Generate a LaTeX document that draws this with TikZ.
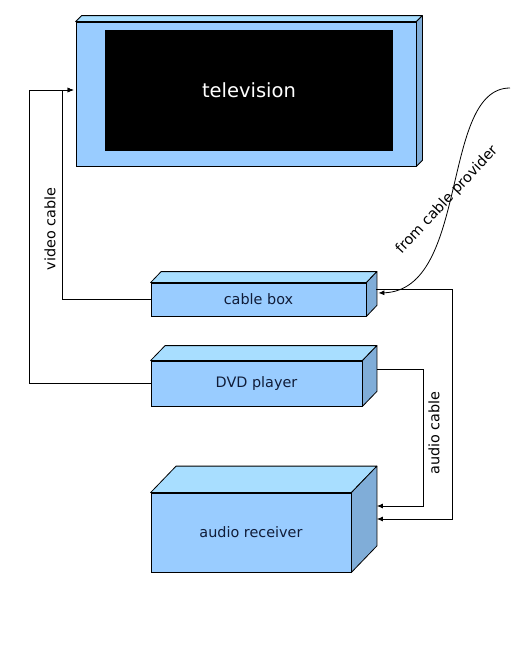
\documentclass[tikz,border=0pt]{standalone}
\usepackage{fontspec}
\setmainfont{DejaVu Sans}
\usetikzlibrary{arrows.meta}
\definecolor{frontc}{RGB}{153,204,255}
\definecolor{topc}{RGB}{168,222,255}
\definecolor{sidec}{RGB}{128,173,216}
\definecolor{txtc}{RGB}{16,28,56}
\newcommand{\cubefaces}[3]{%
  \filldraw[face,fill=topc] (#1.north west) -- ++(#2,-#3) -- ([shift={(#2,-#3)}]#1.north east) -- (#1.north east) -- cycle;
  \filldraw[face,fill=sidec] (#1.north east) -- ++(#2,-#3) -- ([shift={(#2,-#3)}]#1.south east) -- (#1.south east) -- cycle;
}
\begin{document}
\begin{tikzpicture}[x=1pt,y=-1pt,
  frontbox/.style={draw=black, fill=frontc, line width=0.8pt, inner sep=0pt, text=txtc, font=\fontsize{14.4}{17}\selectfont},
  face/.style={draw=black, line width=0.8pt, line join=round},
  wire/.style={draw=black, line width=0.8pt},
  arr/.style={wire, -{Latex[length=6pt,width=5pt]}},
  lbl/.style={font=\fontsize{14.4}{17}\selectfont, text=black, inner sep=0pt}]
\useasboundingbox (0,0) rectangle (512,662);
\fill[white] (0,0) rectangle (512,662);
% television
\node[frontbox, minimum width=340pt, minimum height=144pt] (tv) at (246,94) {};
\cubefaces{tv}{6}{6}
\node[fill=black, minimum width=288pt, minimum height=121pt, inner sep=0pt, text=white, font=\fontsize{19.5}{23}\selectfont] (screen) at (249,90.5) {television};
% cable box
\node[frontbox, minimum width=215pt, minimum height=33pt] (cb) at (258.5,299.5) {cable box};
\cubefaces{cb}{10.5}{11}
% DVD
\node[frontbox, minimum width=211pt, minimum height=45pt] (dvd) at (256.5,383.5) {DVD player};
\cubefaces{dvd}{14.5}{15}
% audio receiver
\node[frontbox, minimum width=200pt, minimum height=79pt] (ar) at (251,532.5) {audio receiver};
\cubefaces{ar}{25.5}{26.5}
% coordinates
\coordinate (tvin) at ([yshift=4pt]tv.west);
\coordinate (cbout) at ([shift={(10,-10)}]cb.east);
\coordinate (dvdout) at ([shift={(14.5,-14.5)}]dvd.east);
\coordinate (arin1) at ([shift={(25.5,-26.5)}]ar.east);
\coordinate (arin2) at ([shift={(25.5,-13.5)}]ar.east);
\coordinate (cp) at (510,88);
\coordinate (cbin) at ([shift={(12,-6.5)}]cb.east);
% wires
\draw[arr, shorten >=2pt] (cb.west) -- ++(-88,0) |- (tvin);
\draw[arr, shorten >=2pt] (dvd.west) -- ++(-121,0) |- (tvin);
\draw[arr] (cbout) -- ++(76,0) |- (arin2);
\draw[arr] (dvdout) -- ++(46,0) |- (arin1);
\draw[arr] (cp) .. controls (440,88) and (470,290) .. (cbin);
% labels
\node[lbl, rotate=90] (vl) at (50,229) {video cable};
\node[lbl, rotate=90] (al) at (434,433) {audio cable};
\node[lbl, rotate=47] (fl) at (447,200) {from cable provider};
\end{tikzpicture}
\end{document}
